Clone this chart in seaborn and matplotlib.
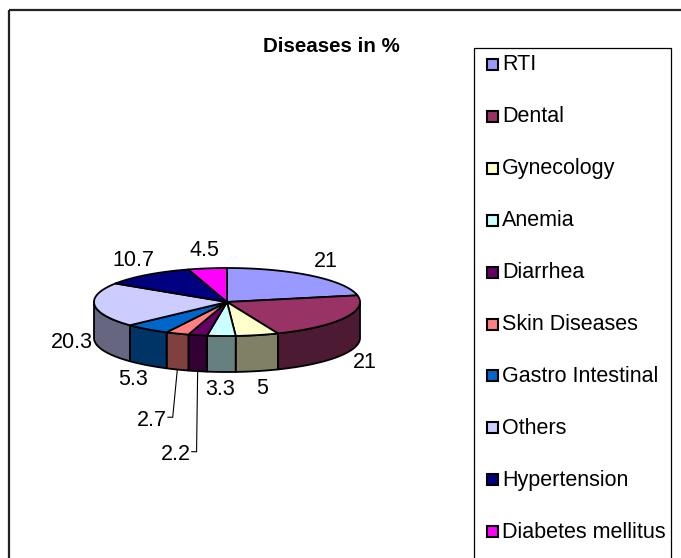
import numpy as np
import matplotlib.pyplot as plt
import seaborn as sns
from matplotlib.colors import to_rgb
from matplotlib.patches import Rectangle

# data
diseases = ["RTI", "Dental", "Gynecology", "Anemia", "Diarrhea", "Skin Diseases",
            "Gastro Intestinal", "Others", "Hypertension", "Diabetes mellitus"]
percent = [21, 21, 5, 3.3, 2.2, 2.7, 5.3, 20.3, 10.7, 4.5]
top_colors = ["#9999FF", "#993366", "#FFFFCC", "#CCFFFF", "#660066", "#FF8080",
              "#0066CC", "#CCCCFF", "#000080", "#FF00FF"]

# labels that Excel pushed down (with leader lines)
label_nudge = {"Diarrhea": (-17, 66), "Skin Diseases": (-17, 34)}

sns.set_style("white")
plt.rcParams['font.family'] = ['Liberation Sans', 'DejaVu Sans']
plt.rcParams['text.color'] = 'black'

# pie geometry in pixel units (x right, y down)
cx, cy = 227, 302
rx, ry = 133, 34
depth = 36


def arc(a_from, a_to, n=60, dy=0):
    t = np.radians(np.linspace(a_from, a_to, n))
    return cx + rx * np.cos(t), cy - ry * np.sin(t) + dy


fig = plt.figure(figsize=(6.81, 5.58), dpi=100)
ax = fig.add_axes([0, 0, 1, 1])
ax.set_xlim(0, 681)
ax.set_ylim(558, 0)
ax.axis('off')

vals = np.array(percent, dtype=float)
sweep = vals / vals.sum() * 360
starts = 90 - np.concatenate([[0], np.cumsum(sweep)[:-1]])
ends = starts - sweep

# side walls (only the front half is visible)
for a0, a1, col in zip(starts, ends, top_colors):
    lo, hi = max(a1, -180), min(a0, 0)
    if lo >= hi:
        continue
    side = np.array(to_rgb(col)) * 0.5
    xt, yt = arc(hi, lo)
    xb, yb = arc(lo, hi, dy=depth)
    ax.fill(np.r_[xt, xb], np.r_[yt, yb], facecolor=side,
            edgecolor='black', linewidth=1.3, joinstyle='round')

# top faces
for a0, a1, col in zip(starts, ends, top_colors):
    xa, ya = arc(a0, a1)
    ax.fill(np.r_[cx, xa], np.r_[cy, ya], facecolor=col,
            edgecolor='black', linewidth=1.3, joinstyle='round')

# data labels
for name, v, a0, a1 in zip(diseases, percent, starts, ends):
    mid = np.radians((a0 + a1) / 2)
    front = np.sin(mid) < 0
    lx = cx + (rx + 23) * np.cos(mid)
    ly = cy - (ry + 18) * np.sin(mid) + (depth if front else 0)
    if name in label_nudge:
        dx, dy = label_nudge[name]
        lx, ly = lx + dx, ly + dy
        ex = cx + rx * np.cos(mid)
        ey = cy - ry * np.sin(mid) + depth
        ax.plot([lx + 16, lx + 21, ex], [ly - 3, ly - 3, ey],
                color='black', linewidth=0.8)
    ax.text(lx, ly, f"{v:g}", ha='center', va='center', fontsize=15.5)

ax.text(331, 47, "Diseases in %", ha='center', va='center',
        fontsize=14.8, fontweight='bold')

# legend box, cut off by the bottom edge like the reference
ax.add_patch(Rectangle((474, 48), 197, 520, fill=False,
                       edgecolor='black', linewidth=0.9))
for i, (name, col) in enumerate(zip(diseases, top_colors)):
    y = 65 + 51.9 * i
    ax.add_patch(Rectangle((487, y - 6), 11, 11, facecolor=col,
                           edgecolor='black', linewidth=1.5))
    ax.text(502, y, name, ha='left', va='center', fontsize=15.5)

# chart area border
ax.add_patch(Rectangle((9, 10), 700, 600, fill=False,
                       edgecolor='#222222', linewidth=1.6))

fig.savefig('out.png', dpi=100)
